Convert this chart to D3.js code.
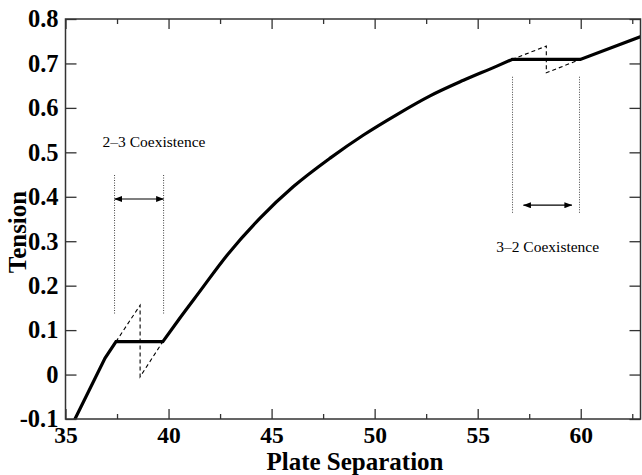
<!DOCTYPE html>
<html><head><meta charset="utf-8">
<script src="https://cdn.jsdelivr.net/npm/d3@7"></script>
<style>body{margin:0;background:#fff}svg{display:block}</style>
</head><body><svg id="c" width="642" height="475"></svg>
<script>
// ---- data ----
const xTicks = [35, 40, 45, 50, 55, 60];
const xMinorTicks = [37.5, 42.5, 47.5, 52.5, 57.5, 62.5];
const yTicks = [-0.1, 0, 0.1, 0.2, 0.3, 0.4, 0.5, 0.6, 0.7, 0.8];
const yTickLabels = ["-0.1", "0", "0.1", "0.2", "0.3", "0.4", "0.5", "0.6", "0.7", "0.8"];
// solid tension curve: lower straight branch, plateau, smooth rise, plateau, upper straight branch
const lowX = [35.46, 36.92, 37.45, 39.72];
const lowY = [-0.1, 0.037, 0.074, 0.074];
const midX = [39.72, 40.5, 41.5, 42.83, 44.44, 46.06, 47.84, 49.46, 51.08, 52.69, 54.31, 55.93, 56.66];
const midY = [0.074, 0.124, 0.186, 0.268, 0.352, 0.423, 0.487, 0.539, 0.585, 0.627, 0.662, 0.694, 0.709];
const highX = [56.66, 59.98, 63.0];
const highY = [0.709, 0.709, 0.762];
const loop23X = [37.45, 38.62, 38.62, 39.72];
const loop23Y = [0.074, 0.156, -0.005, 0.074];
const loop32X = [56.66, 58.33, 58.33, 59.98];
const loop32Y = [0.709, 0.739, 0.679, 0.709];
const bound23X = [37.38, 39.76];
const bound23Y = [0.449, 0.136];
const arrow23X = [37.38, 39.76];
const arrow23Y = 0.395;
const bound32X = [56.69, 59.94];
const bound32Y = [0.67, 0.361];
const arrow32X = [57.22, 59.57];
const arrow32Y = 0.381;
const notes = ["2\u20133 Coexistence", "3\u20132 Coexistence"];
const notesX = [36.8, 55.9];
const notesY = [0.513, 0.276];
const xTitle = "Plate Separation";
const yTitle = "Tension";

// ---- drawing ----
const svg = d3.select("#c");
const L = 65.5, R = 640.5, T = 19, B = 419;
const x = d3.scaleLinear().domain([35, 62.9]).range([L, R]);
const y = d3.scaleLinear().domain([-0.1, 0.8]).range([B, T]);
const serif = "'Liberation Serif','Times New Roman',serif";
const axisCol = "#333";

svg.append("defs").append("marker")
  .attr("id", "ah").attr("viewBox", "0 0 8 6").attr("refX", 7.5).attr("refY", 3)
  .attr("markerWidth", 8).attr("markerHeight", 6).attr("markerUnits", "userSpaceOnUse")
  .attr("orient", "auto-start-reverse")
  .append("path").attr("d", "M0,0 L8,3 L0,6 Z").attr("fill", "#000");

svg.append("clipPath").attr("id", "pc").append("rect")
  .attr("x", L).attr("y", T).attr("width", R - L).attr("height", B - T);

const g = svg.append("g").attr("clip-path", "url(#pc)");

// dotted boundaries
[[bound23X, bound23Y], [bound32X, bound32Y]].forEach(([bx, by]) => {
  bx.forEach(v => {
    g.append("line").attr("x1", x(v)).attr("x2", x(v)).attr("y1", y(by[0])).attr("y2", y(by[1]))
      .attr("stroke", "#444").attr("stroke-width", 1).attr("stroke-dasharray", "1,1.5");
  });
});
// arrows
[[arrow23X, arrow23Y], [arrow32X, arrow32Y]].forEach(([ax, ay]) => {
  g.append("line").attr("x1", x(ax[0])).attr("x2", x(ax[1])).attr("y1", y(ay)).attr("y2", y(ay))
    .attr("stroke", "#000").attr("stroke-width", 1.2)
    .attr("marker-start", "url(#ah)").attr("marker-end", "url(#ah)");
});

const line = d3.line().x(d => x(d[0])).y(d => y(d[1]));
const smooth = d3.line().x(d => x(d[0])).y(d => y(d[1])).curve(d3.curveMonotoneX);
// dashed loops
[[loop23X, loop23Y], [loop32X, loop32Y]].forEach(([lx, ly]) => {
  g.append("path").datum(lx.map((v, i) => [v, ly[i]])).attr("d", line)
    .attr("fill", "none").attr("stroke", "#000").attr("stroke-width", 1.1).attr("stroke-dasharray", "4,3");
});
// main curve
const zip = (a, b) => a.map((v, i) => [v, b[i]]);
const dMain = line(zip(lowX, lowY)) + smooth(zip(midX, midY)) + line(zip(highX, highY));
g.append("path").attr("d", dMain)
  .attr("fill", "none").attr("stroke", "#000").attr("stroke-width", 3.2)
  .attr("stroke-linejoin", "miter").attr("stroke-linecap", "round");

// notes
notes.forEach((t, i) => {
  svg.append("text").attr("x", x(notesX[i])).attr("y", y(notesY[i])).text(t)
    .attr("font-family", serif).attr("font-size", 15.5).attr("fill", "#000");
});

// axes
function styleAxis(sel, fs) {
  sel.select(".domain").remove();
  sel.selectAll(".tick line").attr("stroke", axisCol).attr("stroke-width", 1.3);
  sel.selectAll(".tick text").attr("font-family", serif).attr("font-weight", "bold")
    .attr("font-size", fs || 23).attr("fill", "#000");
}
const xb = svg.append("g").attr("transform", `translate(0,${B})`)
  .call(d3.axisBottom(x).tickValues(xTicks).tickSize(-10).tickPadding(7).tickFormat(d3.format("d")));
styleAxis(xb, 23.5);
const xbm = svg.append("g").attr("transform", `translate(0,${B})`)
  .call(d3.axisBottom(x).tickValues(xMinorTicks).tickSize(-5).tickFormat(""));
styleAxis(xbm);
const xt = svg.append("g").attr("transform", `translate(0,${T})`)
  .call(d3.axisTop(x).tickValues(xTicks).tickSize(-10).tickFormat(""));
styleAxis(xt);
const xtm = svg.append("g").attr("transform", `translate(0,${T})`)
  .call(d3.axisTop(x).tickValues(xMinorTicks).tickSize(-5).tickFormat(""));
styleAxis(xtm);
const yl = svg.append("g").attr("transform", `translate(${L},0)`)
  .call(d3.axisLeft(y).tickValues(yTicks).tickSize(-11).tickPadding(7)
    .tickFormat((d, i) => yTickLabels[i]));
styleAxis(yl, 24.5);
const yr = svg.append("g").attr("transform", `translate(${R},0)`)
  .call(d3.axisRight(y).tickValues(yTicks).tickSize(-11).tickFormat(""));
styleAxis(yr);

// frame
svg.append("rect").attr("x", L).attr("y", T).attr("width", R - L).attr("height", B - T)
  .attr("fill", "none").attr("stroke", axisCol).attr("stroke-width", 1.5);

// titles
svg.append("text").attr("x", (L + R) / 2 + 2).attr("y", 470).attr("text-anchor", "middle")
  .attr("font-family", serif).attr("font-weight", "bold").attr("font-size", 25).text(xTitle);
svg.append("text").attr("transform", `translate(26,${232}) rotate(-90)`).attr("text-anchor", "middle")
  .attr("font-family", serif).attr("font-weight", "bold").attr("font-size", 25).text(yTitle);
</script></body></html>
